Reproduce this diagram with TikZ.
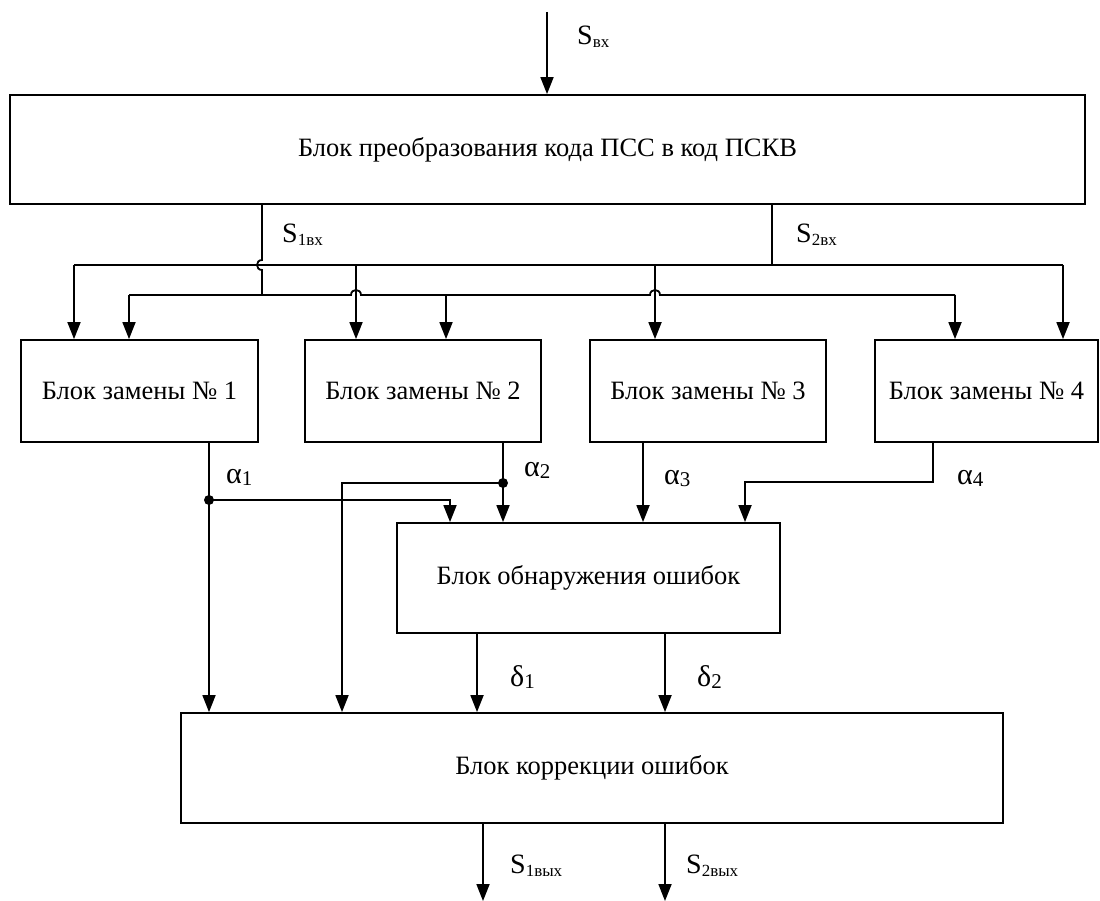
\documentclass[tikz,border=0pt]{standalone}
\usepackage{fontspec}
\setmainfont{Liberation Serif}
\usetikzlibrary{arrows.meta,calc}
\newcommand\sig[2]{{\fontsize{28}{28}\selectfont #1}\raisebox{-3pt}{\fontsize{17}{17}\selectfont #2}}
\newcommand\grk[2]{{\fontsize{30}{30}\selectfont #1}\raisebox{-2pt}{\fontsize{21}{21}\selectfont #2}}
\begin{document}
\begin{tikzpicture}[x=1pt,y=-1pt,
  blk/.style={draw,line width=1.8pt,inner sep=0pt,font=\fontsize{26.5}{28}\selectfont},
  wire/.style={line width=1.8pt},
  arr/.style={line width=1.8pt,-{Triangle[length=17pt,width=13pt]}},
  dotc/.style={circle,fill,inner sep=0pt,minimum size=10pt},
  lab/.style={anchor=base west,inner sep=0pt}]
\useasboundingbox (0,0) rectangle (1100,901);
% blocks
\node[blk,minimum width=1075,minimum height=109] (top) at (547.5,149.5) {Блок преобразования кода ПСС в код ПСКВ};
\node[blk,minimum width=237,minimum height=102] (b1) at (139.5,391) {Блок замены № 1};
\node[blk,minimum width=236,minimum height=102] (b2) at (423,391) {Блок замены № 2};
\node[blk,minimum width=236,minimum height=102] (b3) at (708,391) {Блок замены № 3};
\node[blk,minimum width=223,minimum height=102] (b4) at (986.5,391) {Блок замены № 4};
\node[blk,minimum width=383,minimum height=110] (err) at (588.5,578) {Блок обнаружения ошибок};
\node[blk,minimum width=822,minimum height=110] (cor) at (592,768) {Блок коррекции ошибок};
% input
\coordinate (in) at (547,12);
\draw[arr] (in) -- (in |- top.north);
% bus coordinates
\coordinate (s1) at (262,295);
\coordinate (s2) at (772,265);
% S1 vertical with hop over upper bus
\draw[wire] (top.south -| s1) -- (262,260) .. controls (255.3,260) and (255.3,270) .. (262,270) -- (s1);
% S2 vertical
\draw[wire] (top.south -| s2) -- (s2);
% upper bus (S2)
\coordinate (u1) at (74,265);
\coordinate (u4) at (1063,265);
\draw[wire] (u1) -- (u4);
\draw[arr] (u1) -- (u1 |- b1.north);
\draw[arr] (356,265) -- (356,265 |- b2.north);
\draw[arr] (655,265) -- (655,265 |- b3.north);
\draw[arr] (u4) -- (u4 |- b4.north);
% lower bus (S1) with hops
\coordinate (l1) at (129,295);
\coordinate (l4) at (955,295);
\draw[wire] (l1) -- (351,295) .. controls (351,288.3) and (361,288.3) .. (361,295)
  -- (650,295) .. controls (650,288.3) and (660,288.3) .. (660,295) -- (l4);
\draw[arr] (l1) -- (l1 |- b1.north);
\draw[arr] (446,295) -- (446,295 |- b2.north);
\draw[arr] (l4) -- (l4 |- b4.north);
% alpha lines
\coordinate (a1) at (209,500);
\coordinate (a2) at (503,483);
\draw[arr] (b1.south -| a1) -- (a1 |- cor.north);
\draw[arr] (a1) -- (450,500) -- (450,500 |- err.north);
\node[dotc] (d1) at (a1) {};
\draw[arr] (b2.south -| a2) -- (a2 |- err.north);
\draw[arr] (a2) -- (342,483) -- (342,483 |- cor.north);
\node[dotc] (d2) at (a2) {};
\draw[arr] (b3.south -| 643,0) -- (643,0 |- err.north);
\coordinate (a4) at (933,482);
\draw[arr] (b4.south -| a4) -- (a4) -- (745,482) -- (745,482 |- err.north);
% delta lines
\draw[arr] (err.south -| 477,0) -- (477,0 |- cor.north);
\draw[arr] (err.south -| 665,0) -- (665,0 |- cor.north);
% outputs
\coordinate (o1) at (483,901);
\coordinate (o2) at (665,901);
\draw[arr] (cor.south -| o1) -- (o1);
\draw[arr] (cor.south -| o2) -- (o2);
% labels
\node[lab] (lsin) at (577,45) {\sig{S}{вх}};
\node[lab] (ls1) at (282,243) {\sig{S}{1вх}};
\node[lab] (ls2) at (796,243) {\sig{S}{2вх}};
\node[lab] (la1) at (226,483) {\grk{α}{1}};
\node[lab] (la2) at (524,476) {\grk{α}{2}};
\node[lab] (la3) at (664,484) {\grk{α}{3}};
\node[lab] (la4) at (957,484) {\grk{α}{4}};
\node[lab] (ld1) at (510,686) {\grk{δ}{1}};
\node[lab] (ld2) at (697,686) {\grk{δ}{2}};
\node[lab] (lo1) at (510,873) {\sig{S}{1вых}};
\node[lab] (lo2) at (686,873) {\sig{S}{2вых}};
\end{tikzpicture}
\end{document}
